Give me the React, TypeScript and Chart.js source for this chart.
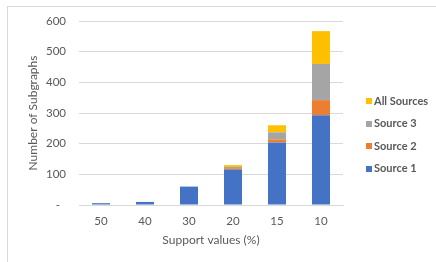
import React, { useEffect, useRef } from "react";
import { Chart, registerables } from "chart.js";

Chart.register(...registerables);

const categories = ["50", "40", "30", "20", "15", "10"];
const source1 = [6, 10, 60, 116, 204, 293];
const source2 = [0, 0, 0, 4, 10, 49];
const source3 = [0, 0, 0, 4, 23, 118];
const allSources = [0, 0, 0, 6, 23, 107];
const seriesNames = ["Source 1", "Source 2", "Source 3", "All Sources"];
const seriesColors = ["#4472C4", "#ED7D31", "#A5A5A5", "#FFC000"];
const yTicks = [0, 100, 200, 300, 400, 500, 600];

const FONT = "Lato, 'Liberation Sans', sans-serif";
const TEXT = "#595959";

const legendPlugin = {
  id: "customLegend",
  afterDraw(chart: any) {
    const ctx = chart.ctx;
    const ds = chart.data.datasets;
    ctx.save();
    ctx.font = `bold 11px ${FONT}`;
    ctx.textBaseline = "middle";
    ctx.textAlign = "left";
    const n = ds.length;
    for (let i = 0; i < n; i++) {
      const d = ds[n - 1 - i];
      const y = 101 + i * 22.6;
      ctx.fillStyle = d.backgroundColor;
      ctx.fillRect(366, Math.round(y) - 3, 6, 6);
      ctx.fillStyle = TEXT;
      ctx.fillText(d.label, 374, y);
    }
    ctx.restore();
  },
};

export default function App() {
  const ref = useRef<HTMLCanvasElement | null>(null);
  useEffect(() => {
    document.body.style.margin = "0";
    const values = [source1, source2, source3, allSources];
    const chart = new Chart(ref.current!, {
      type: "bar",
      data: {
        labels: categories,
        datasets: values.map((v, i) => ({
          label: seriesNames[i],
          data: v,
          backgroundColor: seriesColors[i],
          borderWidth: 0,
          barPercentage: 0.41,
          categoryPercentage: 1,
        })),
      },
      options: {
        animation: false,
        responsive: false,
        layout: { padding: { top: 21, right: 93, left: 0, bottom: 0 } },
        plugins: { legend: { display: false }, tooltip: { enabled: false } },
        scales: {
          x: {
            stacked: true,
            grid: { display: false, drawTicks: false },
            border: { display: true, color: "#d9d9d9" },
            ticks: { color: TEXT, font: { family: FONT, size: 11.5 }, padding: 9 },
            title: {
              display: true,
              text: "Support values (%)",
              color: TEXT,
              font: { family: FONT, size: 12 },
              padding: { top: 0, bottom: 14.8 },
            },
            afterFit: (s: any) => {
              s.height = 57;
            },
          },
          y: {
            stacked: true,
            min: 0,
            max: 600,
            afterBuildTicks: (s: any) => {
              s.ticks = yTicks.map((v) => ({ value: v }));
            },
            grid: { color: "#d9d9d9", drawTicks: false },
            border: { display: false },
            ticks: {
              color: TEXT,
              font: { family: FONT, size: 11.5 },
              padding: 13,
              callback: (v: any) => (Number(v) === 0 ? "-  " : String(v)),
            },
            title: {
              display: true,
              text: "Number of Subgraphs",
              color: TEXT,
              font: { family: FONT, size: 12 },
              padding: { top: 25.8, bottom: 0 },
            },
            afterFit: (s: any) => {
              s.width = 79;
            },
          },
        },
      },
      plugins: [legendPlugin],
    });
    return () => chart.destroy();
  }, []);
  return (
    <div style={{ position: "relative", width: 436, height: 262, background: "#fff" }}>
      <div
        style={{
          position: "absolute",
          left: 7,
          top: 6,
          right: 0,
          bottom: 0,
          borderLeft: "1px solid #d9d9d9",
          borderTop: "1px solid #d9d9d9",
        }}
      />
      <canvas ref={ref} width={436} height={262} style={{ position: "absolute", left: 0, top: 0 }} />
    </div>
  );
}
